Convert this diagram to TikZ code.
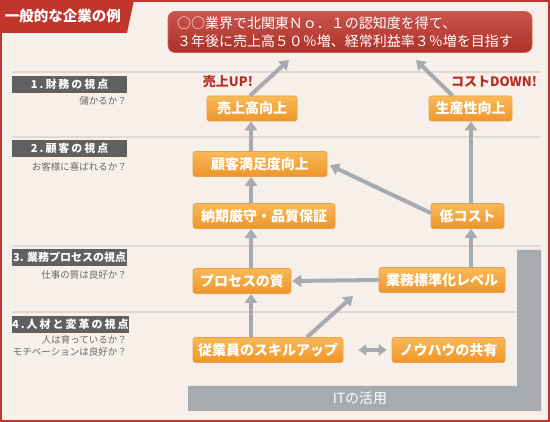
\documentclass[tikz,border=0pt]{standalone}
\usepackage{fontspec}
\setmainfont{Noto Sans CJK JP}
\usetikzlibrary{arrows.meta,calc}
\definecolor{bgc}{HTML}{F7EFE9}
\definecolor{redc}{HTML}{C0362C}
\definecolor{redt}{HTML}{B32E27}
\definecolor{grayarr}{HTML}{A7ABB0}
\definecolor{sep}{HTML}{DCD9D7}
\definecolor{lab}{HTML}{606060}
\definecolor{subt}{HTML}{6A6A6A}
\definecolor{ortop}{HTML}{F9B95A}
\definecolor{orbot}{HTML}{EE9628}
\definecolor{ordraw}{HTML}{E8A040}
\tikzset{
  obox/.style={rounded corners=2.5pt, top color=ortop, bottom color=orbot, draw=ordraw, line width=0.6pt,
    text=white, font=\fontsize{14}{16}\selectfont\bfseries, minimum height=25pt, inner sep=0pt, anchor=center},
  arr/.style={draw=grayarr, line width=4pt, -{Triangle[width=12pt,length=9pt]}},
  darr/.style={draw=grayarr, line width=3.5pt, {Triangle[width=11pt,length=8pt]}-{Triangle[width=11pt,length=8pt]}},
  catbox/.style={fill=lab, text=white, font=\fontsize{11}{12}\selectfont\bfseries, minimum width=115pt, minimum height=17pt, inner sep=0pt, anchor=north west},
  subtext/.style={text=subt, font=\fontsize{9.5}{12}\selectfont, anchor=east, inner sep=0pt, align=right},
  sepline/.style={draw=sep, line width=2pt},
  redlab/.style={text=redt, font=\fontsize{13}{14}\selectfont\bfseries, inner sep=0pt}
}
\begin{document}
\begin{tikzpicture}[x=1pt,y=-1pt]
\useasboundingbox (0,0) rectangle (550,422);
\fill[bgc] (0,0) rectangle (550,422);
% separators
\draw[sepline] (12,72) -- (540,72);
\draw[sepline] (12,137) -- (540,137);
\draw[sepline] (12,246) -- (540,246);
\draw[sepline] (12,312) -- (517,312);
% frame
\draw[redc, line width=2pt] (1,1) rectangle (549,421);
% tab
\fill[redc] (0,0) -- (134,0) -- (127,33) -- (0,33) -- cycle;
\node[text=white, font=\fontsize{14.5}{16}\selectfont\bfseries, inner sep=0pt] (tab) at (63,16) {一般的な企業の例};
% goal
\node[rounded corners=7pt, top color=redc!85!white, bottom color=redc!90!black, draw=redc!80!white, line width=0.6pt,
  minimum width=364pt, minimum height=41pt, text=white, align=left, font=\fontsize{14}{18}\selectfont,
  inner sep=0pt, text width=346pt] (goal) at (350,32) {○○業界で北関東Ｎｏ．１の認知度を得て、\\３年後に売上高５０％増、経常利益率３％増を目指す};
% IT bar
\fill[grayarr] (188,386) -- (517,386) -- (517,250) -- (541,250) -- (541,411) -- (188,411) -- cycle;
\node[text=white, font=\fontsize{14}{16}\selectfont, inner sep=0pt] (it) at (360,398) {ITの活用};
% category labels
\node[catbox] (c1) at (12,76) {\addfontfeature{LetterSpace=18}1.財務の視点};
\node[subtext] (s1) at (127,101) {儲かるか？};
\node[catbox] (c2) at (12,140) {\addfontfeature{LetterSpace=18}2.顧客の視点};
\node[subtext] (s2) at (127,167) {お客様に喜ばれるか？};
\node[catbox] (c3) at (12,249) {3. 業務プロセスの視点};
\node[subtext] (s3) at (127,275) {仕事の質は良好か？};
\node[catbox] (c4) at (12,316) {\addfontfeature{LetterSpace=18}4.人材と変革の視点};
\node[subtext] (s4) at (127,346) {人は育っているか？\\モチベーションは良好か？};
% red labels
\node[redlab] (up) at (228,82) {売上UP!};
\node[redlab] (down) at (494,82) {コストDOWN!};
% orange nodes
\node[obox, minimum width=90pt] (uri) at (252,108.5) {売上高向上};
\node[obox, minimum width=83pt] (sei) at (470.5,108.5) {生産性向上};
\node[obox, minimum width=134pt] (kok) at (260,164) {顧客満足度向上};
\node[obox, minimum width=142pt] (nou) at (264,216) {納期厳守・品質保証};
\node[obox, minimum width=73pt] (tei) at (467.5,216) {低コスト};
\node[obox, minimum width=98pt] (pro) at (242,281) {プロセスの質};
\node[obox, minimum width=126pt] (gyo) at (442,280) {業務標準化レベル};
\node[obox, minimum width=150pt] (juu) at (268,350) {従業員のスキルアップ};
\node[obox, minimum width=113pt] (knw) at (448.5,350) {ノウハウの共有};
% columns and free ends
\coordinate (col1) at (251,0);
\coordinate (col2) at (471,0);
\coordinate (g1) at (289,60);
\coordinate (g2) at (416,60);
\coordinate (e1) at (353,296);
% arrows
\draw[arr] ([xshift=-2pt]uri.north) -- (g1);
\draw[arr] ([xshift=-18pt]sei.north) -- (g2);
\draw[arr] (kok.north -| col1) -- (uri.south -| col1);
\draw[arr] (tei.north -| col2) -- (sei.south -| col2);
\draw[arr, shorten >=3pt] ([yshift=3pt]tei.west) -- (kok.east);
\draw[arr] (nou.north -| col1) -- (kok.south -| col1);
\draw[arr] (pro.north -| col1) -- (nou.south -| col1);
\draw[arr] (gyo.north -| col2) -- (tei.south -| col2);
\draw[arr, shorten >=1pt] (gyo.west) -- (pro.east);
\draw[arr] (juu.north -| col1) -- (pro.south -| col1);
\draw[arr] ([xshift=39pt]juu.north) -- (e1);
\draw[darr, shorten <=15pt, shorten >=5pt] (juu.east) -- (knw.west);
\end{tikzpicture}
\end{document}
